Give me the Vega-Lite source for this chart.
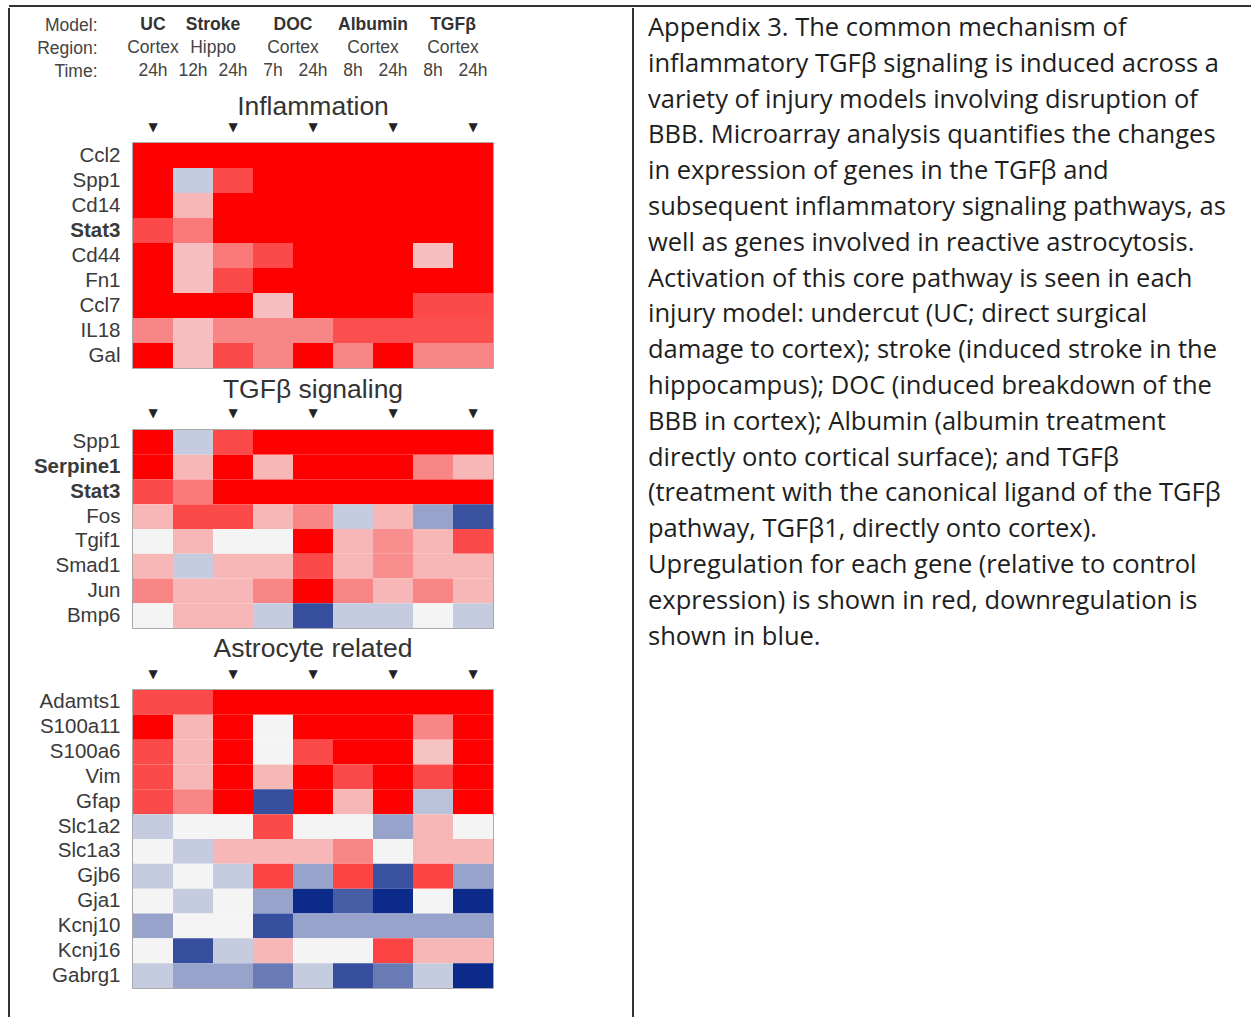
{
  "$schema": "https://vega.github.io/schema/vega-lite/v6.json",
  "padding": {"left": 8, "top": 5, "right": 0, "bottom": 0},
  "background": "white",
  "config": {"view": {"stroke": null}, "font": "Liberation Sans"},
  "datasets": {
    "header": [
      {"row": "Model:", "pos": 0.5, "label": "UC"},
      {"row": "Model:", "pos": 2, "label": "Stroke"},
      {"row": "Model:", "pos": 4, "label": "DOC"},
      {"row": "Model:", "pos": 6, "label": "Albumin"},
      {"row": "Model:", "pos": 8, "label": "TGFβ"},
      {"row": "Region:", "pos": 0.5, "label": "Cortex"},
      {"row": "Region:", "pos": 2, "label": "Hippo"},
      {"row": "Region:", "pos": 4, "label": "Cortex"},
      {"row": "Region:", "pos": 6, "label": "Cortex"},
      {"row": "Region:", "pos": 8, "label": "Cortex"},
      {"row": "Time:", "pos": 0.5, "label": "24h"},
      {"row": "Time:", "pos": 1.5, "label": "12h"},
      {"row": "Time:", "pos": 2.5, "label": "24h"},
      {"row": "Time:", "pos": 3.5, "label": "7h"},
      {"row": "Time:", "pos": 4.5, "label": "24h"},
      {"row": "Time:", "pos": 5.5, "label": "8h"},
      {"row": "Time:", "pos": 6.5, "label": "24h"},
      {"row": "Time:", "pos": 7.5, "label": "8h"},
      {"row": "Time:", "pos": 8.5, "label": "24h"}
    ],
    "para": [
      {"line": 1, "text": "Appendix 3. The common mechanism of"},
      {"line": 2, "text": "inflammatory TGFβ signaling is induced across a"},
      {"line": 3, "text": "variety of injury models involving disruption of"},
      {"line": 4, "text": "BBB. Microarray analysis quantifies the changes"},
      {"line": 5, "text": "in expression of genes in the TGFβ and"},
      {"line": 6, "text": "subsequent inflammatory signaling pathways, as"},
      {"line": 7, "text": "well as genes involved in reactive astrocytosis."},
      {"line": 8, "text": "Activation of this core pathway is seen in each"},
      {"line": 9, "text": "injury model: undercut (UC; direct surgical"},
      {"line": 10, "text": "damage to cortex); stroke (induced stroke in the"},
      {"line": 11, "text": "hippocampus); DOC (induced breakdown of the"},
      {"line": 12, "text": "BBB in cortex); Albumin (albumin treatment"},
      {"line": 13, "text": "directly onto cortical surface); and TGFβ"},
      {"line": 14, "text": "(treatment with the canonical ligand of the TGFβ"},
      {"line": 15, "text": "pathway, TGFβ1, directly onto cortex)."},
      {"line": 16, "text": "Upregulation for each gene (relative to control"},
      {"line": 17, "text": "expression) is shown in red, downregulation is"},
      {"line": 18, "text": "shown in blue."}
    ],
    "infl": [
      {"gene":"Ccl2","cond":"UC 24h","value":1},{"gene":"Ccl2","cond":"Stroke 12h","value":1},{"gene":"Ccl2","cond":"Stroke 24h","value":1},{"gene":"Ccl2","cond":"DOC 7h","value":1},{"gene":"Ccl2","cond":"DOC 24h","value":1},{"gene":"Ccl2","cond":"Albumin 8h","value":1},{"gene":"Ccl2","cond":"Albumin 24h","value":1},{"gene":"Ccl2","cond":"TGFβ 8h","value":1},{"gene":"Ccl2","cond":"TGFβ 24h","value":1},
      {"gene":"Spp1","cond":"UC 24h","value":1},{"gene":"Spp1","cond":"Stroke 12h","value":-0.2},{"gene":"Spp1","cond":"Stroke 24h","value":0.7},{"gene":"Spp1","cond":"DOC 7h","value":1},{"gene":"Spp1","cond":"DOC 24h","value":1},{"gene":"Spp1","cond":"Albumin 8h","value":1},{"gene":"Spp1","cond":"Albumin 24h","value":1},{"gene":"Spp1","cond":"TGFβ 8h","value":1},{"gene":"Spp1","cond":"TGFβ 24h","value":1},
      {"gene":"Cd14","cond":"UC 24h","value":1},{"gene":"Cd14","cond":"Stroke 12h","value":0.25},{"gene":"Cd14","cond":"Stroke 24h","value":1},{"gene":"Cd14","cond":"DOC 7h","value":1},{"gene":"Cd14","cond":"DOC 24h","value":1},{"gene":"Cd14","cond":"Albumin 8h","value":1},{"gene":"Cd14","cond":"Albumin 24h","value":1},{"gene":"Cd14","cond":"TGFβ 8h","value":1},{"gene":"Cd14","cond":"TGFβ 24h","value":1},
      {"gene":"Stat3","cond":"UC 24h","value":0.7},{"gene":"Stat3","cond":"Stroke 12h","value":0.5},{"gene":"Stat3","cond":"Stroke 24h","value":1},{"gene":"Stat3","cond":"DOC 7h","value":1},{"gene":"Stat3","cond":"DOC 24h","value":1},{"gene":"Stat3","cond":"Albumin 8h","value":1},{"gene":"Stat3","cond":"Albumin 24h","value":1},{"gene":"Stat3","cond":"TGFβ 8h","value":1},{"gene":"Stat3","cond":"TGFβ 24h","value":1},
      {"gene":"Cd44","cond":"UC 24h","value":1},{"gene":"Cd44","cond":"Stroke 12h","value":0.22},{"gene":"Cd44","cond":"Stroke 24h","value":0.5},{"gene":"Cd44","cond":"DOC 7h","value":0.7},{"gene":"Cd44","cond":"DOC 24h","value":1},{"gene":"Cd44","cond":"Albumin 8h","value":1},{"gene":"Cd44","cond":"Albumin 24h","value":1},{"gene":"Cd44","cond":"TGFβ 8h","value":0.22},{"gene":"Cd44","cond":"TGFβ 24h","value":1},
      {"gene":"Fn1","cond":"UC 24h","value":1},{"gene":"Fn1","cond":"Stroke 12h","value":0.22},{"gene":"Fn1","cond":"Stroke 24h","value":0.7},{"gene":"Fn1","cond":"DOC 7h","value":1},{"gene":"Fn1","cond":"DOC 24h","value":1},{"gene":"Fn1","cond":"Albumin 8h","value":1},{"gene":"Fn1","cond":"Albumin 24h","value":1},{"gene":"Fn1","cond":"TGFβ 8h","value":1},{"gene":"Fn1","cond":"TGFβ 24h","value":1},
      {"gene":"Ccl7","cond":"UC 24h","value":1},{"gene":"Ccl7","cond":"Stroke 12h","value":1},{"gene":"Ccl7","cond":"Stroke 24h","value":1},{"gene":"Ccl7","cond":"DOC 7h","value":0.22},{"gene":"Ccl7","cond":"DOC 24h","value":1},{"gene":"Ccl7","cond":"Albumin 8h","value":1},{"gene":"Ccl7","cond":"Albumin 24h","value":1},{"gene":"Ccl7","cond":"TGFβ 8h","value":0.7},{"gene":"Ccl7","cond":"TGFβ 24h","value":0.7},
      {"gene":"IL18","cond":"UC 24h","value":0.45},{"gene":"IL18","cond":"Stroke 12h","value":0.22},{"gene":"IL18","cond":"Stroke 24h","value":0.45},{"gene":"IL18","cond":"DOC 7h","value":0.45},{"gene":"IL18","cond":"DOC 24h","value":0.45},{"gene":"IL18","cond":"Albumin 8h","value":0.68},{"gene":"IL18","cond":"Albumin 24h","value":0.68},{"gene":"IL18","cond":"TGFβ 8h","value":0.68},{"gene":"IL18","cond":"TGFβ 24h","value":0.68},
      {"gene":"Gal","cond":"UC 24h","value":1},{"gene":"Gal","cond":"Stroke 12h","value":0.22},{"gene":"Gal","cond":"Stroke 24h","value":0.7},{"gene":"Gal","cond":"DOC 7h","value":0.45},{"gene":"Gal","cond":"DOC 24h","value":1},{"gene":"Gal","cond":"Albumin 8h","value":0.45},{"gene":"Gal","cond":"Albumin 24h","value":1},{"gene":"Gal","cond":"TGFβ 8h","value":0.45},{"gene":"Gal","cond":"TGFβ 24h","value":0.45}
    ],
    "tgf": [
      {"gene":"Spp1","cond":"UC 24h","value":1},{"gene":"Spp1","cond":"Stroke 12h","value":-0.2},{"gene":"Spp1","cond":"Stroke 24h","value":0.7},{"gene":"Spp1","cond":"DOC 7h","value":1},{"gene":"Spp1","cond":"DOC 24h","value":1},{"gene":"Spp1","cond":"Albumin 8h","value":1},{"gene":"Spp1","cond":"Albumin 24h","value":1},{"gene":"Spp1","cond":"TGFβ 8h","value":1},{"gene":"Spp1","cond":"TGFβ 24h","value":1},
      {"gene":"Serpine1","cond":"UC 24h","value":1},{"gene":"Serpine1","cond":"Stroke 12h","value":0.25},{"gene":"Serpine1","cond":"Stroke 24h","value":1},{"gene":"Serpine1","cond":"DOC 7h","value":0.25},{"gene":"Serpine1","cond":"DOC 24h","value":1},{"gene":"Serpine1","cond":"Albumin 8h","value":1},{"gene":"Serpine1","cond":"Albumin 24h","value":1},{"gene":"Serpine1","cond":"TGFβ 8h","value":0.45},{"gene":"Serpine1","cond":"TGFβ 24h","value":0.25},
      {"gene":"Stat3","cond":"UC 24h","value":0.7},{"gene":"Stat3","cond":"Stroke 12h","value":0.5},{"gene":"Stat3","cond":"Stroke 24h","value":1},{"gene":"Stat3","cond":"DOC 7h","value":1},{"gene":"Stat3","cond":"DOC 24h","value":1},{"gene":"Stat3","cond":"Albumin 8h","value":1},{"gene":"Stat3","cond":"Albumin 24h","value":1},{"gene":"Stat3","cond":"TGFβ 8h","value":1},{"gene":"Stat3","cond":"TGFβ 24h","value":1},
      {"gene":"Fos","cond":"UC 24h","value":0.25},{"gene":"Fos","cond":"Stroke 12h","value":0.7},{"gene":"Fos","cond":"Stroke 24h","value":0.7},{"gene":"Fos","cond":"DOC 7h","value":0.25},{"gene":"Fos","cond":"DOC 24h","value":0.45},{"gene":"Fos","cond":"Albumin 8h","value":-0.2},{"gene":"Fos","cond":"Albumin 24h","value":0.25},{"gene":"Fos","cond":"TGFβ 8h","value":-0.4},{"gene":"Fos","cond":"TGFβ 24h","value":-0.8},
      {"gene":"Tgif1","cond":"UC 24h","value":0},{"gene":"Tgif1","cond":"Stroke 12h","value":0.25},{"gene":"Tgif1","cond":"Stroke 24h","value":0},{"gene":"Tgif1","cond":"DOC 7h","value":0},{"gene":"Tgif1","cond":"DOC 24h","value":1},{"gene":"Tgif1","cond":"Albumin 8h","value":0.25},{"gene":"Tgif1","cond":"Albumin 24h","value":0.42},{"gene":"Tgif1","cond":"TGFβ 8h","value":0.25},{"gene":"Tgif1","cond":"TGFβ 24h","value":0.7},
      {"gene":"Smad1","cond":"UC 24h","value":0.25},{"gene":"Smad1","cond":"Stroke 12h","value":-0.2},{"gene":"Smad1","cond":"Stroke 24h","value":0.25},{"gene":"Smad1","cond":"DOC 7h","value":0.25},{"gene":"Smad1","cond":"DOC 24h","value":0.7},{"gene":"Smad1","cond":"Albumin 8h","value":0.25},{"gene":"Smad1","cond":"Albumin 24h","value":0.42},{"gene":"Smad1","cond":"TGFβ 8h","value":0.25},{"gene":"Smad1","cond":"TGFβ 24h","value":0.25},
      {"gene":"Jun","cond":"UC 24h","value":0.45},{"gene":"Jun","cond":"Stroke 12h","value":0.25},{"gene":"Jun","cond":"Stroke 24h","value":0.25},{"gene":"Jun","cond":"DOC 7h","value":0.45},{"gene":"Jun","cond":"DOC 24h","value":1},{"gene":"Jun","cond":"Albumin 8h","value":0.45},{"gene":"Jun","cond":"Albumin 24h","value":0.25},{"gene":"Jun","cond":"TGFβ 8h","value":0.45},{"gene":"Jun","cond":"TGFβ 24h","value":0.25},
      {"gene":"Bmp6","cond":"UC 24h","value":0},{"gene":"Bmp6","cond":"Stroke 12h","value":0.25},{"gene":"Bmp6","cond":"Stroke 24h","value":0.25},{"gene":"Bmp6","cond":"DOC 7h","value":-0.2},{"gene":"Bmp6","cond":"DOC 24h","value":-0.82},{"gene":"Bmp6","cond":"Albumin 8h","value":-0.2},{"gene":"Bmp6","cond":"Albumin 24h","value":-0.2},{"gene":"Bmp6","cond":"TGFβ 8h","value":0},{"gene":"Bmp6","cond":"TGFβ 24h","value":-0.2}
    ],
    "astro": [
      {"gene":"Adamts1","cond":"UC 24h","value":0.7},{"gene":"Adamts1","cond":"Stroke 12h","value":0.7},{"gene":"Adamts1","cond":"Stroke 24h","value":1},{"gene":"Adamts1","cond":"DOC 7h","value":1},{"gene":"Adamts1","cond":"DOC 24h","value":1},{"gene":"Adamts1","cond":"Albumin 8h","value":1},{"gene":"Adamts1","cond":"Albumin 24h","value":1},{"gene":"Adamts1","cond":"TGFβ 8h","value":1},{"gene":"Adamts1","cond":"TGFβ 24h","value":1},
      {"gene":"S100a11","cond":"UC 24h","value":1},{"gene":"S100a11","cond":"Stroke 12h","value":0.25},{"gene":"S100a11","cond":"Stroke 24h","value":1},{"gene":"S100a11","cond":"DOC 7h","value":0},{"gene":"S100a11","cond":"DOC 24h","value":1},{"gene":"S100a11","cond":"Albumin 8h","value":1},{"gene":"S100a11","cond":"Albumin 24h","value":1},{"gene":"S100a11","cond":"TGFβ 8h","value":0.45},{"gene":"S100a11","cond":"TGFβ 24h","value":1},
      {"gene":"S100a6","cond":"UC 24h","value":0.7},{"gene":"S100a6","cond":"Stroke 12h","value":0.25},{"gene":"S100a6","cond":"Stroke 24h","value":1},{"gene":"S100a6","cond":"DOC 7h","value":0},{"gene":"S100a6","cond":"DOC 24h","value":0.7},{"gene":"S100a6","cond":"Albumin 8h","value":1},{"gene":"S100a6","cond":"Albumin 24h","value":1},{"gene":"S100a6","cond":"TGFβ 8h","value":0.2},{"gene":"S100a6","cond":"TGFβ 24h","value":1},
      {"gene":"Vim","cond":"UC 24h","value":0.7},{"gene":"Vim","cond":"Stroke 12h","value":0.25},{"gene":"Vim","cond":"Stroke 24h","value":1},{"gene":"Vim","cond":"DOC 7h","value":0.25},{"gene":"Vim","cond":"DOC 24h","value":1},{"gene":"Vim","cond":"Albumin 8h","value":0.7},{"gene":"Vim","cond":"Albumin 24h","value":1},{"gene":"Vim","cond":"TGFβ 8h","value":0.7},{"gene":"Vim","cond":"TGFβ 24h","value":1},
      {"gene":"Gfap","cond":"UC 24h","value":0.7},{"gene":"Gfap","cond":"Stroke 12h","value":0.45},{"gene":"Gfap","cond":"Stroke 24h","value":1},{"gene":"Gfap","cond":"DOC 7h","value":-0.82},{"gene":"Gfap","cond":"DOC 24h","value":1},{"gene":"Gfap","cond":"Albumin 8h","value":0.25},{"gene":"Gfap","cond":"Albumin 24h","value":1},{"gene":"Gfap","cond":"TGFβ 8h","value":-0.25},{"gene":"Gfap","cond":"TGFβ 24h","value":1},
      {"gene":"Slc1a2","cond":"UC 24h","value":-0.2},{"gene":"Slc1a2","cond":"Stroke 12h","value":0},{"gene":"Slc1a2","cond":"Stroke 24h","value":0},{"gene":"Slc1a2","cond":"DOC 7h","value":0.7},{"gene":"Slc1a2","cond":"DOC 24h","value":0},{"gene":"Slc1a2","cond":"Albumin 8h","value":0},{"gene":"Slc1a2","cond":"Albumin 24h","value":-0.4},{"gene":"Slc1a2","cond":"TGFβ 8h","value":0.25},{"gene":"Slc1a2","cond":"TGFβ 24h","value":0},
      {"gene":"Slc1a3","cond":"UC 24h","value":0},{"gene":"Slc1a3","cond":"Stroke 12h","value":-0.2},{"gene":"Slc1a3","cond":"Stroke 24h","value":0.25},{"gene":"Slc1a3","cond":"DOC 7h","value":0.25},{"gene":"Slc1a3","cond":"DOC 24h","value":0.25},{"gene":"Slc1a3","cond":"Albumin 8h","value":0.45},{"gene":"Slc1a3","cond":"Albumin 24h","value":0},{"gene":"Slc1a3","cond":"TGFβ 8h","value":0.25},{"gene":"Slc1a3","cond":"TGFβ 24h","value":0.25},
      {"gene":"Gjb6","cond":"UC 24h","value":-0.2},{"gene":"Gjb6","cond":"Stroke 12h","value":0},{"gene":"Gjb6","cond":"Stroke 24h","value":-0.2},{"gene":"Gjb6","cond":"DOC 7h","value":0.72},{"gene":"Gjb6","cond":"DOC 24h","value":-0.4},{"gene":"Gjb6","cond":"Albumin 8h","value":0.72},{"gene":"Gjb6","cond":"Albumin 24h","value":-0.8},{"gene":"Gjb6","cond":"TGFβ 8h","value":0.72},{"gene":"Gjb6","cond":"TGFβ 24h","value":-0.4},
      {"gene":"Gja1","cond":"UC 24h","value":0},{"gene":"Gja1","cond":"Stroke 12h","value":-0.2},{"gene":"Gja1","cond":"Stroke 24h","value":0},{"gene":"Gja1","cond":"DOC 7h","value":-0.4},{"gene":"Gja1","cond":"DOC 24h","value":-1},{"gene":"Gja1","cond":"Albumin 8h","value":-0.75},{"gene":"Gja1","cond":"Albumin 24h","value":-1},{"gene":"Gja1","cond":"TGFβ 8h","value":0},{"gene":"Gja1","cond":"TGFβ 24h","value":-1},
      {"gene":"Kcnj10","cond":"UC 24h","value":-0.4},{"gene":"Kcnj10","cond":"Stroke 12h","value":0},{"gene":"Kcnj10","cond":"Stroke 24h","value":0},{"gene":"Kcnj10","cond":"DOC 7h","value":-0.82},{"gene":"Kcnj10","cond":"DOC 24h","value":-0.4},{"gene":"Kcnj10","cond":"Albumin 8h","value":-0.4},{"gene":"Kcnj10","cond":"Albumin 24h","value":-0.4},{"gene":"Kcnj10","cond":"TGFβ 8h","value":-0.4},{"gene":"Kcnj10","cond":"TGFβ 24h","value":-0.4},
      {"gene":"Kcnj16","cond":"UC 24h","value":0},{"gene":"Kcnj16","cond":"Stroke 12h","value":-0.82},{"gene":"Kcnj16","cond":"Stroke 24h","value":-0.2},{"gene":"Kcnj16","cond":"DOC 7h","value":0.25},{"gene":"Kcnj16","cond":"DOC 24h","value":0},{"gene":"Kcnj16","cond":"Albumin 8h","value":0},{"gene":"Kcnj16","cond":"Albumin 24h","value":0.72},{"gene":"Kcnj16","cond":"TGFβ 8h","value":0.25},{"gene":"Kcnj16","cond":"TGFβ 24h","value":0.25},
      {"gene":"Gabrg1","cond":"UC 24h","value":-0.2},{"gene":"Gabrg1","cond":"Stroke 12h","value":-0.4},{"gene":"Gabrg1","cond":"Stroke 24h","value":-0.4},{"gene":"Gabrg1","cond":"DOC 7h","value":-0.6},{"gene":"Gabrg1","cond":"DOC 24h","value":-0.2},{"gene":"Gabrg1","cond":"Albumin 8h","value":-0.82},{"gene":"Gabrg1","cond":"Albumin 24h","value":-0.6},{"gene":"Gabrg1","cond":"TGFβ 8h","value":-0.2},{"gene":"Gabrg1","cond":"TGFβ 24h","value":-1}
    ]
  },
  "spacing": 0,
  "vconcat": [
    {
      "width": 1243, "height": 1,
      "data": {"values": [{}]},
      "mark": {"type": "rule", "color": "#333333", "strokeWidth": 2},
      "encoding": {"y": {"datum": 0, "type": "quantitative", "scale": {"domain": [0, 1]}, "axis": null}}
    },
    {
      "spacing": 0,
      "hconcat": [
        {
          "width": 23, "height": 1010,
          "data": {"values": [{}]},
          "mark": {"type": "rule", "color": "#333333", "strokeWidth": 2},
          "encoding": {"x": {"datum": 0, "type": "quantitative", "scale": {"domain": [0, 1]}, "axis": null}}
        },
        {
          "spacing": 62,
          "bounds": "flush",
          "vconcat": [
            {
              "width": 499, "height": 73,
              "data": {"name": "header"},
              "layer": [
                {
                  "transform": [{"filter": "datum.row == 'Model:'"}],
                  "mark": {"type": "text", "fontWeight": "bold", "fontSize": 17.5, "color": "#333333"},
                  "encoding": {
                    "x": {"field": "pos", "type": "quantitative", "scale": {"domain": [0, 12.475], "nice": false, "zero": false}, "axis": null},
                    "y": {"field": "row", "type": "nominal", "scale": {"type": "point", "domain": ["Model:", "Region:", "Time:"], "padding": 0.587, "align": 0.63},
                          "axis": {"title": null, "ticks": false, "domain": false, "labelPadding": 36, "labelFontSize": 17.5, "labelColor": "#444444", "labelFont": "Liberation Sans"}},
                    "text": {"field": "label"}
                  }
                },
                {
                  "transform": [{"filter": "datum.row != 'Model:'"}],
                  "mark": {"type": "text", "fontSize": 17.5, "color": "#444444"},
                  "encoding": {
                    "x": {"field": "pos", "type": "quantitative"},
                    "y": {"field": "row", "type": "nominal"},
                    "text": {"field": "label"}
                  }
                }
              ]
            },
            {
              "width": 360, "height": 225,
              "view": {"stroke": "#8f8f8f", "strokeWidth": 1.5},
              "data": {"name": "infl"},
              "title": {"text": "Inflammation", "anchor": "middle", "offset": 0, "fontSize": 26.5, "fontWeight": "normal", "color": "#333333", "font": "Liberation Sans"},
              "mark": {"type": "rect"},
              "encoding": {
                "x": {"field": "cond", "type": "nominal", "sort": ["UC 24h", "Stroke 12h", "Stroke 24h", "DOC 7h", "DOC 24h", "Albumin 8h", "Albumin 24h", "TGFβ 8h", "TGFβ 24h"], "scale": {"paddingInner": 0, "paddingOuter": 0},
                      "axis": {"orient": "top", "title": null, "ticks": false, "domain": false, "labelAngle": 0, "labelOverlap": false, "labelExpr": "indexof(datum.value, '24h') >= 0 ? '▼' : ''", "labelFont": "DejaVu Sans", "labelFontSize": 12, "labelColor": "#222222", "labelPadding": 10}},
                "y": {"field": "gene", "type": "nominal", "sort": null, "scale": {"paddingInner": 0, "paddingOuter": 0},
                      "axis": {"title": null, "ticks": false, "domain": false, "labelPadding": 13, "labelFontSize": 20.5, "labelColor": "#3a3a3a", "labelFontWeight": {"condition": {"test": "datum.value == 'Stat3' || datum.value == 'Serpine1'", "value": "bold"}, "value": "normal"}}},
                "color": {"field": "value", "type": "quantitative", "scale": {"domain": [-1, 0, 1], "range": ["#0c2a8a", "#f4f4f4", "#ff0000"], "interpolate": "rgb"}, "legend": null}
              }
            },
            {
              "width": 360, "height": 198,
              "view": {"stroke": "#8f8f8f", "strokeWidth": 1.5},
              "data": {"name": "tgf"},
              "title": {"text": "TGFβ signaling", "anchor": "middle", "offset": 3, "fontSize": 26.5, "fontWeight": "normal", "color": "#333333", "font": "Liberation Sans"},
              "mark": {"type": "rect"},
              "encoding": {
                "x": {"field": "cond", "type": "nominal", "sort": ["UC 24h", "Stroke 12h", "Stroke 24h", "DOC 7h", "DOC 24h", "Albumin 8h", "Albumin 24h", "TGFβ 8h", "TGFβ 24h"], "scale": {"paddingInner": 0, "paddingOuter": 0},
                      "axis": {"orient": "top", "title": null, "ticks": false, "domain": false, "labelAngle": 0, "labelOverlap": false, "labelExpr": "indexof(datum.value, '24h') >= 0 ? '▼' : ''", "labelFont": "DejaVu Sans", "labelFontSize": 12, "labelColor": "#222222", "labelPadding": 11}},
                "y": {"field": "gene", "type": "nominal", "sort": null, "scale": {"paddingInner": 0, "paddingOuter": 0},
                      "axis": {"title": null, "ticks": false, "domain": false, "labelPadding": 13, "labelFontSize": 20.5, "labelColor": "#3a3a3a", "labelFontWeight": {"condition": {"test": "datum.value == 'Stat3' || datum.value == 'Serpine1'", "value": "bold"}, "value": "normal"}}},
                "color": {"field": "value", "type": "quantitative", "scale": {"domain": [-1, 0, 1], "range": ["#0c2a8a", "#f4f4f4", "#ff0000"], "interpolate": "rgb"}, "legend": null}
              }
            },
            {
              "width": 360, "height": 298,
              "view": {"stroke": "#8f8f8f", "strokeWidth": 1.5},
              "data": {"name": "astro"},
              "title": {"text": "Astrocyte related", "anchor": "middle", "offset": 5, "fontSize": 26.5, "fontWeight": "normal", "color": "#333333", "font": "Liberation Sans"},
              "mark": {"type": "rect"},
              "encoding": {
                "x": {"field": "cond", "type": "nominal", "sort": ["UC 24h", "Stroke 12h", "Stroke 24h", "DOC 7h", "DOC 24h", "Albumin 8h", "Albumin 24h", "TGFβ 8h", "TGFβ 24h"], "scale": {"paddingInner": 0, "paddingOuter": 0},
                      "axis": {"orient": "top", "title": null, "ticks": false, "domain": false, "labelAngle": 0, "labelOverlap": false, "labelExpr": "indexof(datum.value, '24h') >= 0 ? '▼' : ''", "labelFont": "DejaVu Sans", "labelFontSize": 12, "labelColor": "#222222", "labelPadding": 10}},
                "y": {"field": "gene", "type": "nominal", "sort": null, "scale": {"paddingInner": 0, "paddingOuter": 0},
                      "axis": {"title": null, "ticks": false, "domain": false, "labelPadding": 13, "labelFontSize": 20.5, "labelColor": "#3a3a3a"}},
                "color": {"field": "value", "type": "quantitative", "scale": {"domain": [-1, 0, 1], "range": ["#0c2a8a", "#f4f4f4", "#ff0000"], "interpolate": "rgb"}, "legend": null}
              }
            }
          ]
        },
        {
          "width": 617, "height": 1010,
          "layer": [
            {
              "data": {"values": [{}]},
              "mark": {"type": "rule", "color": "#333333", "strokeWidth": 2},
              "encoding": {"x": {"datum": 0, "type": "quantitative", "scale": {"domain": [0, 1]}, "axis": null}}
            },
            {
              "data": {"name": "para"},
              "mark": {"type": "text", "align": "left", "baseline": "middle", "font": "Open Sans", "fontSize": 25.5, "color": "#1e1e1e"},
              "encoding": {
                "x": {"datum": 0.0243, "type": "quantitative"},
                "y": {"field": "line", "type": "quantitative", "scale": {"domain": [0.4413, 28.654], "reverse": true, "nice": false, "zero": false}, "axis": null},
                "text": {"field": "text"}
              }
            }
          ]
        }
      ]
    }
  ]
}
